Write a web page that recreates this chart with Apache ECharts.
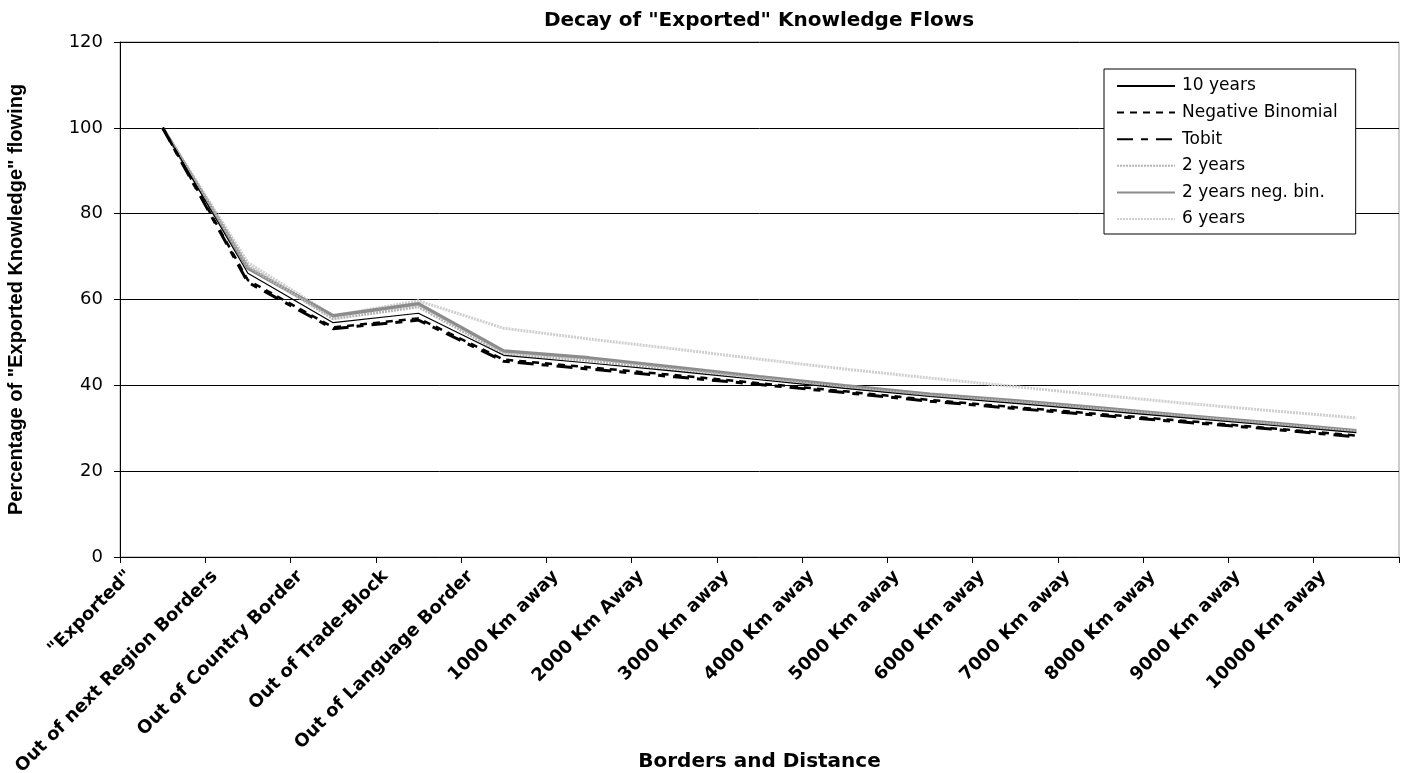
<!DOCTYPE html>
<html>
<head>
	<meta charset="UTF-8">
	<title>Decay of Exported Knowledge Flows</title>
	<style>
		html, body { margin: 0; padding: 0; background: #fff; }
		#chart { width: 1405px; height: 773px; }
	</style>
</head>
<body>
<div id="chart"></div>
<script src="https://cdn.jsdelivr.net/npm/echarts@6/dist/echarts.min.js"></script>
<script type="text/javascript">
var categories = ['"Exported"', 'Out of next Region Borders', 'Out of Country Border', 'Out of Trade-Block',
	'Out of Language Border', '1000 Km away', '2000 Km Away', '3000 Km away', '4000 Km away',
	'5000 Km away', '6000 Km away', '7000 Km away', '8000 Km away', '9000 Km away', '10000 Km away'];

var tenYears = [100, 66.1, 54.6, 56.8, 47.0, 45.2, 43.3, 41.3, 39.3, 37.4, 35.8, 34.1, 32.4, 30.7, 29.0];
var negBinomial = [100, 64.5, 53.5, 55.6, 46.0, 44.2, 42.4, 40.5, 38.6, 36.6, 34.9, 33.3, 31.7, 30.0, 28.3];
var tobit = [100, 64.0, 53.2, 55.2, 45.6, 43.8, 42.0, 40.2, 38.3, 36.3, 34.6, 33.0, 31.4, 29.8, 28.0];
var twoYears = [100, 67.8, 55.5, 58.3, 47.3, 45.8, 43.7, 41.6, 39.5, 37.6, 36.1, 34.4, 32.7, 31.0, 29.2];
var twoYearsNegBin = [100, 67.3, 56.2, 59.0, 48.0, 46.4, 44.2, 42.0, 39.9, 37.9, 36.4, 34.7, 32.9, 31.2, 29.4];
var sixYears = [100, 68.6, 56.2, 59.7, 53.3, 50.8, 48.5, 46.1, 43.8, 41.7, 39.7, 37.7, 35.8, 34.1, 32.4];

var yTicks = [0, 20, 40, 60, 80, 100, 120];

var wide = '"DejaVu Sans", Verdana, sans-serif';
var arial = 'Arial, "Liberation Sans", sans-serif';

function lineSeries(name, data, color, width, type, z) {
	return {
		name: name,
		type: 'line',
		data: data,
		symbol: 'none',
		z: z,
		lineStyle: { color: color, width: width, type: type },
		itemStyle: { color: color }
	};
}

var chart = echarts.init(document.getElementById('chart'));
var option = {
	animation: false,
	title: {
		text: 'Decay of "Exported" Knowledge Flows',
		left: 754, top: 6, textAlign: 'center',
		textStyle: { fontFamily: wide, fontSize: 20, fontWeight: 'bold', color: '#000' }
	},
	legend: {
		orient: 'vertical',
		left: 1104, top: 69,
		padding: [8, 18, 6, 12],
		itemGap: 8.6,
		itemWidth: 58, itemHeight: 14,
		borderColor: '#000', borderWidth: 1,
		backgroundColor: '#fff',
		itemStyle: { opacity: 0 },
		textStyle: { fontFamily: wide, fontSize: 17, lineHeight: 18, color: '#000', padding: [0, 0, 0, 2] },
		data: ['10 years', 'Negative Binomial', 'Tobit', '2 years', '2 years neg. bin.', '6 years']
	},
	grid: {
		left: 120, right: 6, top: 42, bottom: 216,
		containLabel: false,
		outerBoundsMode: 'none',
		show: true, borderColor: '#999', borderWidth: 1
	},
	xAxis: {
		type: 'category',
		data: categories,
		boundaryGap: true,
		name: 'Borders and Distance',
		nameLocation: 'middle',
		nameGap: 195,
		nameMoveOverlap: false,
		nameTextStyle: { fontFamily: wide, fontSize: 20, fontWeight: 'bold', color: '#000' },
		axisLine: { lineStyle: { color: '#000', width: 1 } },
		axisTick: { show: true, length: 6, lineStyle: { color: '#000' } },
		axisLabel: {
			rotate: 45,
			interval: 0,
			margin: 6,
			fontFamily: wide, fontSize: 18, fontWeight: 'bold', color: '#000',
			verticalAlign: 'bottom',
			lineHeight: 32,
			padding: [0, 31, 0, 0]
		},
		splitLine: { show: false }
	},
	yAxis: {
		type: 'value',
		min: yTicks[0], max: yTicks[yTicks.length - 1], interval: 20,
		name: 'Percentage of "Exported Knowledge" flowing',
		nameLocation: 'middle',
		nameGap: 94,
		nameTextStyle: { fontFamily: arial, fontSize: 20, fontWeight: 'bold', color: '#000' },
		axisLine: { show: true, lineStyle: { color: '#000', width: 1 } },
		axisTick: { show: true, length: 6, inside: false, lineStyle: { color: '#000' } },
		axisLabel: { margin: 17, fontFamily: wide, fontSize: 18, color: '#000' },
		splitLine: { show: true, lineStyle: { color: '#000', width: 1 } }
	},
	series: [
		lineSeries('6 years', sixYears, '#cfcfcf', 3, [2, 1], 2),
		lineSeries('2 years neg. bin.', twoYearsNegBin, '#8c8c8c', 3.5, 'solid', 3),
		lineSeries('2 years', twoYears, '#b4b4b4', 3, [2, 1], 4),
		lineSeries('10 years', tenYears, '#000', 1.2, 'solid', 5),
		lineSeries('Negative Binomial', negBinomial, '#000', 2.5, [7, 6], 6),
		lineSeries('Tobit', tobit, '#000', 3, [16, 8, 7, 8], 7)
	]
};
chart.setOption(option);
</script>
</body>
</html>
